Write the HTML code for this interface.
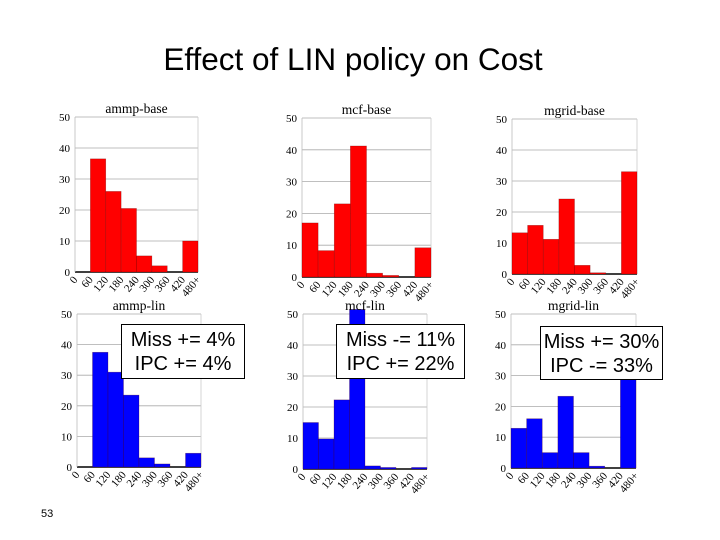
<!DOCTYPE html>
<html><head><meta charset="utf-8"><style>
body{margin:0;background:#fff;width:720px;height:540px;overflow:hidden;position:relative;font-family:"Liberation Sans",sans-serif}
#title{position:absolute;left:0;width:706px;top:41px;text-align:center;font-size:31.5px;color:#000}
.box{position:absolute;background:#fff;border:1.5px solid #000;text-align:center;font-size:20px;line-height:24px;box-sizing:border-box;padding-top:3px}
#pg{position:absolute;left:41px;top:508px;font-size:11px}
</style></head><body>
<div id="title">Effect of LIN policy on Cost</div>
<svg id="svg" width="720" height="540" style="position:absolute;left:0;top:0"></svg>
<div class="box" style="left:121px;top:324px;width:124px;height:55px">Miss += 4%<br>IPC += 4%</div>
<div class="box" style="left:336px;top:324px;width:129px;height:55px">Miss -= 11%<br>IPC += 22%</div>
<div class="box" style="left:540px;top:326px;width:123px;height:54px">Miss += 30%<br>IPC -= 33%</div>
<div id="pg">53</div>
<script>
const binLabels=["0","60","120","180","240","300","360","420","480+"];
const yTicks=[0,10,20,30,40,50];
const titles=["ammp-base","mcf-base","mgrid-base","ammp-lin","mcf-lin","mgrid-lin"];
const ammpBase=[0,36.5,26,20.5,5.2,2,0,10];
const mcfBase=[17,8.3,23,41.2,1.2,0.5,0,9.2];
const mgridBase=[13.3,15.7,11.2,24.2,2.8,0.4,0,33];
const ammpLin=[0,37.5,31,23.5,3,1,0,4.5];
const mcfLin=[15,9.7,22.3,51.5,1,0.5,0,0.5];
const mgridLin=[12.9,16,5,23.3,5,0.6,0,38];
const series=[ammpBase,mcfBase,mgridBase,ammpLin,mcfLin,mgridLin];
const frames=[[75,198,117,272],[302,431,118,277],[512,637,119,274],[77,201,314,467],[303,427,314,469],[511,636,314,468]];
const svg=document.getElementById('svg');
const NS='http://www.w3.org/2000/svg';
function mk(t,a){const e=document.createElementNS(NS,t);for(const k in a)e.setAttribute(k,a[k]);return e;}
series.forEach((vals,i)=>{
  const [x0,x1,yt,yb]=frames[i];
  const color=i<3?'#ff0000':'#0000ff';
  const g=mk('g',{});
  
  
  svg.appendChild(g);
  const ys=v=>yb-(v/50)*(yb-yt);
  const bw=(x1-x0)/vals.length;
  const xs=k=>x0+k*bw;
  yTicks.forEach(t=>{
    const l=mk('line',{x1:x0,x2:x1,y1:ys(t),y2:ys(t),stroke:t===0?'#000':'#aaa','stroke-width':t===0?1.5:0.8});
    
    
    g.appendChild(l);
    const tx=mk('text',{x:x0-5,y:ys(t)+4,'text-anchor':'end','font-size':11,'font-family':'Liberation Serif, serif'});
    tx.textContent=t;
    
    
    g.appendChild(tx);
  });
  g.appendChild(mk('line',{x1:x0,x2:x0,y1:yt,y2:yb,stroke:'#bbb','stroke-width':0.8}));
  g.appendChild(mk('line',{x1:x1,x2:x1,y1:yt,y2:yb,stroke:'#ccc','stroke-width':0.8}));
  vals.forEach((v,k)=>{
    if(v<=0)return;
    const r=mk('rect',{x:xs(k),y:ys(v),width:bw,height:yb-ys(v),fill:color,stroke:'#500','stroke-opacity':0.4,'stroke-width':0.6});
    
    
    g.appendChild(r);
  });
  binLabels.forEach((lab,k)=>{
    const x=xs(k)+3,y=yb+8;
    const tx=mk('text',{x:x,y:y,'text-anchor':'end','font-size':11,'font-family':'Liberation Serif, serif',transform:`rotate(-50 ${x} ${y})`});
    tx.textContent=lab;
    
    
    g.appendChild(tx);
  });
  const tt=mk('text',{x:(x0+x1)/2,y:yt-4,'text-anchor':'middle','font-size':13.5,'font-family':'Liberation Serif, serif'});
  tt.textContent=titles[i];
  
  
  g.appendChild(tt);
});
</script>
</body></html>
